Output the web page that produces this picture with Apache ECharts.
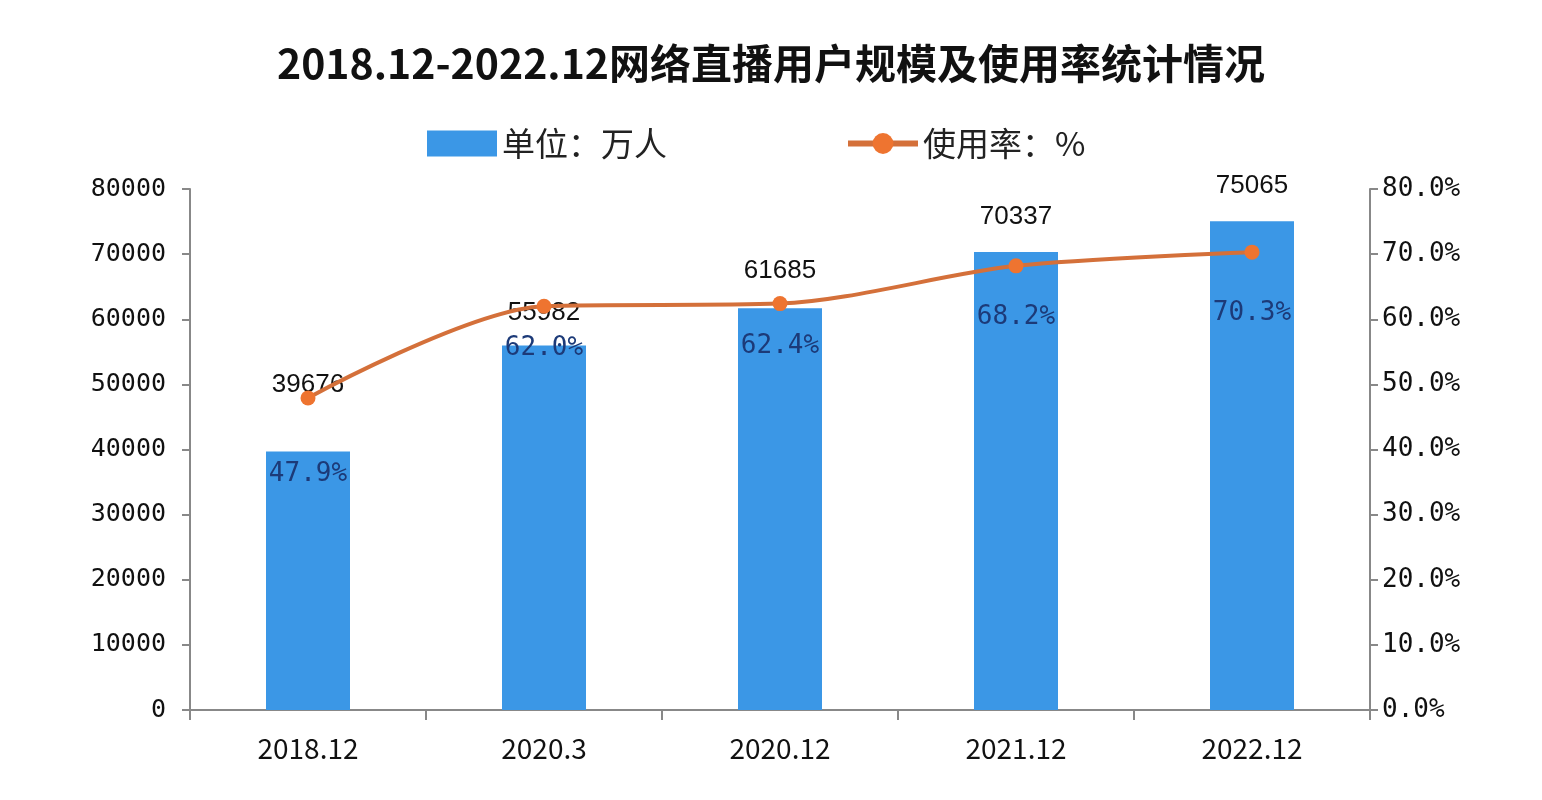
<!DOCTYPE html>
<html>
<head>
<meta charset="utf-8">
<script src="https://cdn.jsdelivr.net/npm/echarts@6/dist/echarts.min.js"></script>
<style>html,body{margin:0;padding:0;background:#fff;}#main{width:1542px;height:800px;}</style>
</head>
<body>
<div id="main"></div>
<script>
var categories = ['2018.12', '2020.3', '2020.12', '2021.12', '2022.12'];
var users = [39676, 55982, 61685, 70337, 75065];
var rates = [47.9, 62.0, 62.4, 68.2, 70.3];

var barLabelDist = [54, 20, 24, 22, 22];
var rateLabelDist = [56, 22, 22, 31, 41];

var chart = echarts.init(document.getElementById('main'));
var mono = 'DejaVu Sans Mono';
var option = {
  backgroundColor: '#ffffff',
  animation: false,
  title: {
    text: '2018.12-2022.12网络直播用户规模及使用率统计情况',
    left: 'center',
    top: 38,
    textStyle: { fontFamily: 'Noto Sans CJK SC', fontWeight: 'bold', fontSize: 41, color: '#111' }
  },
  legend: {
    top: 122,
    left: 422,
    itemGap: 178,
    itemWidth: 70,
    itemHeight: 26,
    textStyle: { fontFamily: 'Noto Sans CJK SC', fontSize: 33, color: '#222' },
    data: [
      { name: '单位：万人', icon: 'rect' },
      { name: '使用率：%', lineStyle: { width: 6, color: '#d4703a' } }
    ]
  },
  grid: { left: 190, right: 172, top: 189, bottom: 90 },
  xAxis: {
    type: 'category',
    data: categories,
    axisLine: { lineStyle: { color: '#888', width: 2 } },
    axisTick: { show: true, alignWithLabel: false, length: 10, lineStyle: { color: '#888', width: 2 } },
    axisLabel: { margin: 24, fontFamily: 'Noto Sans CJK SC', fontSize: 28, color: '#111' }
  },
  yAxis: [
    {
      type: 'value', min: 0, max: 80000, interval: 10000,
      axisLine: { show: true, lineStyle: { color: '#888', width: 2 } },
      axisTick: { show: true, length: 8, lineStyle: { color: '#888', width: 2 } },
      splitLine: { show: false },
      axisLabel: { margin: 24, fontFamily: mono, fontSize: 25, color: '#111',
        formatter: function (v) { return String(v); } }
    },
    {
      type: 'value', min: 0, max: 80, interval: 10,
      axisLine: { show: true, lineStyle: { color: '#888', width: 2 } },
      axisTick: { show: true, length: 8, lineStyle: { color: '#888', width: 2 } },
      splitLine: { show: false },
      axisLabel: { margin: 12, fontFamily: mono, fontSize: 26, color: '#111',
        formatter: function (v) { return v.toFixed(1) + '%'; } }
    }
  ],
  series: [
    {
      name: '单位：万人',
      type: 'bar',
      barWidth: 84,
      itemStyle: { color: '#3b97e6' },
      data: users.map(function (v, i) {
        return { value: v, label: { distance: barLabelDist[i] } };
      }),
      label: { show: true, position: 'top', fontFamily: 'Liberation Sans', fontSize: 26, color: '#111' }
    },
    {
      name: '使用率：%',
      type: 'line',
      yAxisIndex: 1,
      smooth: 0.3,
      symbol: 'circle',
      symbolSize: 15,
      lineStyle: { color: '#d4703a', width: 4 },
      itemStyle: { color: '#ee7430' },
      data: rates.map(function (v, i) {
        return { value: v, label: { distance: rateLabelDist[i] } };
      }),
      label: { show: true, position: 'bottom', fontFamily: mono, fontSize: 26, color: '#1c3a78',
        formatter: function (p) { return p.value.toFixed(1) + '%'; } }
    }
  ]
};
chart.setOption(option);
</script>
</body>
</html>
